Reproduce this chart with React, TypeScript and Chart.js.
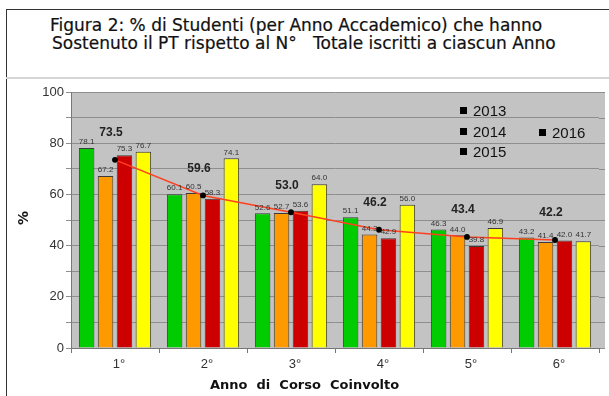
import React, { useEffect, useRef } from 'react';
import Chart from 'chart.js/auto';

const categories = ['1°', '2°', '3°', '4°', '5°', '6°'];
const years = ['2013', '2014', '2015', '2016'];
const values2013 = [78.1, 60.1, 52.6, 51.1, 46.3, 43.2];
const values2014 = [67.2, 60.5, 52.7, 44.3, 44.0, 41.4];
const values2015 = [75.3, 58.3, 53.6, 42.9, 39.8, 42.0];
const values2016 = [76.7, 74.1, 64.0, 56.0, 46.9, 41.7];
const averages = [73.5, 59.6, 53.0, 46.2, 43.4, 42.2];
const barColors = ['#00cc00', '#ff9900', '#cc0000', '#ffff00'];

const titleLine1 = 'Figura 2: % di Studenti (per Anno Accademico) che hanno';
const titleLine2 = 'Sostenuto il PT rispetto al N°   Totale iscritti a ciascun Anno';
const xTitle = 'Anno  di  Corso  Coinvolto';
const yTitle = '%';

const EXTRA_RIGHT = 6;

const bgPlugin = {
  id: 'plotBg',
  beforeDraw(chart: any) {
    const { ctx, chartArea } = chart;
    ctx.save();
    ctx.fillStyle = '#c3c3c3';
    ctx.fillRect(chartArea.left, chartArea.top, chartArea.right - chartArea.left + EXTRA_RIGHT, chartArea.bottom - chartArea.top);
    const y = chart.scales.y;
    ctx.strokeStyle = '#8e8e8e';
    ctx.lineWidth = 1;
    for (let v = 0; v <= 100; v += 10) {
      const py = Math.round(y.getPixelForValue(v)) + 0.5;
      ctx.beginPath();
      ctx.moveTo(chartArea.right, py);
      ctx.lineTo(chartArea.right + EXTRA_RIGHT, py);
      ctx.stroke();
    }
    ctx.restore();
  },
};

const labelPlugin = {
  id: 'valueLabels',
  afterDatasetsDraw(chart: any) {
    const { ctx } = chart;
    ctx.save();
    ctx.textAlign = 'center';
    ctx.textBaseline = 'bottom';
    for (let d = 0; d < 4; d++) {
      const meta = chart.getDatasetMeta(d);
      const ds = chart.data.datasets[d];
      ctx.font = '8px "Liberation Sans", Arial, sans-serif';
      ctx.fillStyle = '#333';
      meta.data.forEach((el: any, i: number) => {
        ctx.fillText(Number(ds.data[i]).toFixed(1), el.x, el.y - 2);
      });
    }
    const lineMeta = chart.getDatasetMeta(4);
    ctx.font = 'bold 12px "Liberation Sans", Arial, sans-serif';
    ctx.fillStyle = '#222';
    lineMeta.data.forEach((pt: any, i: number) => {
      ctx.fillText(averages[i].toFixed(1), pt.x - 4, pt.y - 21);
    });
    ctx.restore();
  },
};

export default function App() {
  const ref = useRef<HTMLCanvasElement | null>(null);
  useEffect(() => {
    if (!ref.current) return;
    const barSets = [values2013, values2014, values2015, values2016].map((vals, k) => ({
      type: 'bar' as const,
      label: years[k],
      data: vals,
      backgroundColor: barColors[k],
      borderColor: '#3a3a3a',
      borderWidth: 1,
      categoryPercentage: 0.86,
      barPercentage: 0.82,
      order: 1,
    }));
    const chart = new Chart(ref.current, {
      type: 'bar',
      data: {
        labels: categories,
        datasets: [
          ...barSets,
          {
            type: 'line' as const,
            label: 'media',
            data: averages,
            borderColor: '#ff4020',
            borderWidth: 1.5,
            pointRadius: 2.2,
            pointBackgroundColor: '#000',
            pointBorderColor: '#000',
            tension: 0,
            order: 0,
          } as any,
        ],
      },
      options: {
        animation: false,
        responsive: false,
        maintainAspectRatio: false,
        layout: { padding: { left: 0, top: 92, right: 10, bottom: 18 } },
        plugins: { legend: { display: false }, tooltip: { enabled: false }, title: { display: false } },
        scales: {
          x: {
            grid: { display: true, drawOnChartArea: false, offset: true, tickLength: 5, color: '#777' },
            border: { color: '#777' },
            ticks: { color: '#333', font: { size: 13, family: '"Liberation Sans", Arial, sans-serif' }, padding: 4, labelOffset: 4 },
            afterFit(scale: any) { scale.height = 30; },
          },
          y: {
            min: 0,
            max: 100,
            grid: { color: '#8e8e8e', tickLength: 5, lineWidth: 1 },
            border: { color: '#777' },
            ticks: {
              stepSize: 10,
              color: '#333',
              padding: 2,
              font: { size: 13, family: '"Liberation Sans", Arial, sans-serif' },
              callback: (v: any) => (Number(v) % 20 === 0 ? String(v) : ''),
            },
            afterFit(scale: any) { scale.width = 71; },
          },
        },
      },
      plugins: [bgPlugin, labelPlugin],
    });
    return () => chart.destroy();
  }, []);

  const legendItem = (text: string, left: number, top: number) => (
    <div key={text} style={{ position: 'absolute', left, top, display: 'flex', alignItems: 'center', font: '15px "Liberation Sans", Arial, sans-serif', color: '#111' }}>
      <span style={{ display: 'inline-block', width: 7, height: 7, background: '#000', marginRight: 6 }} />
      {text}
    </div>
  );

  return (
    <div style={{ position: 'absolute', left: 0, top: 0, width: 609, height: 396, background: '#fff', overflow: 'hidden' }}>
      <div style={{ position: 'absolute', left: 6, top: 9, width: 620, height: 400, borderLeft: '1.5px solid #333', borderTop: '1.5px solid #333' }} />
      <div style={{ position: 'absolute', left: 6, top: 77, width: 603, height: 2, background: '#d6d6d6' }} />
      <div style={{ position: 'absolute', left: 50, top: 16, font: '17px "DejaVu Sans", sans-serif', color: '#111', whiteSpace: 'pre', lineHeight: '18px', WebkitTextStroke: '0.2px #111' }}>
        <div>{titleLine1}</div>
        <div style={{ paddingLeft: 2 }}>{titleLine2}</div>
      </div>
      <canvas ref={ref} width={609} height={396} style={{ position: 'absolute', left: 0, top: 0, width: 609, height: 396 }} />
      {legendItem(years[0], 460, 102)}
      {legendItem(years[1], 460, 123)}
      {legendItem(years[2], 460, 143)}
      {legendItem(years[3], 539, 124)}
      <div style={{ position: 'absolute', left: 16, top: 210, transform: 'rotate(-90deg)', font: 'bold 14px "DejaVu Sans", sans-serif', color: '#111' }}>{yTitle}</div>
      <div style={{ position: 'absolute', left: 210, top: 377, font: 'bold 13px "DejaVu Sans", sans-serif', color: '#111', whiteSpace: 'pre' }}>{xTitle}</div>
    </div>
  );
}
